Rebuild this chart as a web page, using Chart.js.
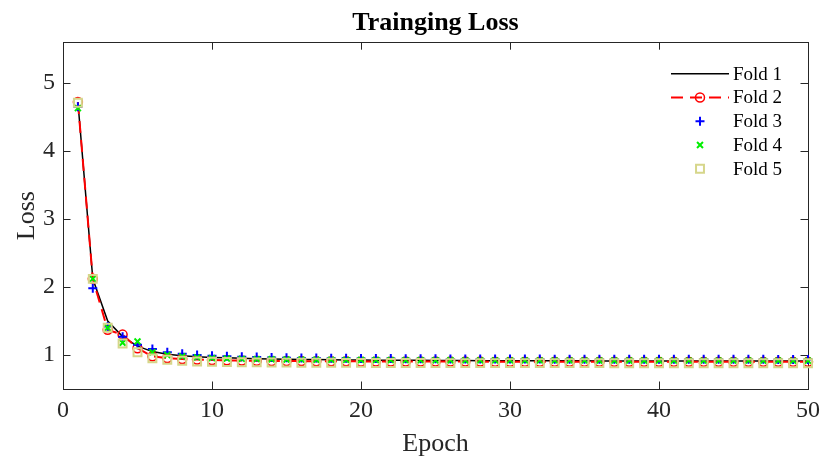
<!DOCTYPE html>
<html>
<head>
<meta charset="utf-8">
<script src="https://cdn.jsdelivr.net/npm/chart.js@4.4.1/dist/chart.umd.min.js"></script>
<style>
html,body{margin:0;padding:0;background:#ffffff;}
#wrap{width:821px;height:457px;}
</style>
</head>
<body>
<div id="wrap"><canvas id="c" width="821" height="457"></canvas></div>
<script>
// ---- data ----
const epochs = [1,2,3,4,5,6,7,8,9,10,11,12,13,14,15,16,17,18,19,20,21,22,23,24,25,26,27,28,29,30,31,32,33,34,35,36,37,38,39,40,41,42,43,44,45,46,47,48,49,50];
const seriesNames = ['Fold 1','Fold 2','Fold 3','Fold 4','Fold 5'];
const fold1 = [4.72,2.12,1.50,1.27,1.13,1.05,1.01,0.99,0.975,0.965,0.958,0.952,0.946,0.942,0.938,0.935,0.932,0.930,0.928,0.926,0.924,0.923,0.922,0.921,0.920,0.919,0.918,0.917,0.917,0.916,0.916,0.915,0.915,0.914,0.914,0.913,0.913,0.913,0.912,0.912,0.912,0.911,0.911,0.911,0.911,0.910,0.910,0.910,0.910,0.910];
const fold2 = [4.72,2.12,1.37,1.30,1.10,0.98,0.955,0.940,0.932,0.926,0.921,0.918,0.915,0.913,0.911,0.910,0.909,0.908,0.907,0.906,0.906,0.905,0.905,0.904,0.904,0.903,0.903,0.903,0.902,0.902,0.902,0.902,0.901,0.901,0.901,0.901,0.900,0.900,0.900,0.900,0.900,0.900,0.899,0.899,0.899,0.899,0.899,0.899,0.899,0.899];
const fold3 = [4.65,1.98,1.42,1.27,1.15,1.09,1.04,1.02,1.00,0.99,0.980,0.975,0.970,0.965,0.960,0.957,0.955,0.953,0.951,0.950,0.948,0.947,0.946,0.945,0.944,0.943,0.943,0.942,0.941,0.941,0.940,0.940,0.939,0.939,0.939,0.938,0.938,0.938,0.937,0.937,0.937,0.937,0.936,0.936,0.936,0.936,0.936,0.935,0.935,0.935];
const fold4 = [4.63,2.12,1.40,1.18,1.20,1.04,1.00,0.980,0.965,0.955,0.948,0.943,0.940,0.937,0.934,0.932,0.930,0.929,0.928,0.927,0.926,0.925,0.924,0.924,0.923,0.923,0.922,0.922,0.921,0.921,0.921,0.920,0.920,0.920,0.920,0.919,0.919,0.919,0.919,0.919,0.918,0.918,0.918,0.918,0.918,0.918,0.917,0.917,0.917,0.917];
const fold5 = [4.71,2.12,1.40,1.17,1.04,0.95,0.930,0.915,0.905,0.900,0.896,0.893,0.891,0.889,0.888,0.887,0.886,0.885,0.884,0.884,0.883,0.883,0.882,0.882,0.882,0.881,0.881,0.881,0.880,0.880,0.880,0.880,0.880,0.880,0.880,0.880,0.879,0.879,0.879,0.879,0.879,0.879,0.879,0.879,0.879,0.879,0.879,0.879,0.879,0.879];
const xTickValues = [0,10,20,30,40,50];
const yTickValues = [1,2,3,4,5];
const xRange = [0,50];
const yRange = [0.5,5.6];
const chartTitle = 'Trainging Loss';
const xTitle = 'Epoch';
const yTitle = 'Loss';

// ---- styles ----
const SERIF = "'Liberation Serif','Times New Roman',serif";
const AXIS_COLOR = '#262626';
const styles = [
  {color:'#000000', line:true,  dash:[],     lw:1.5, pointStyle:false,     r:0,   pw:0},
  {color:'#ff0000', line:true,  dash:[12,7], lw:2,   pointStyle:'circle',  r:4.5, pw:1.5},
  {color:'#0000ff', line:false, dash:[],     lw:0,   pointStyle:'cross',   r:4.5, pw:2},
  {color:'#00ee00', line:false, dash:[],     lw:0,   pointStyle:'crossRot',r:4.2, pw:2},
  {color:'#d6d68a', line:false, dash:[],     lw:0,   pointStyle:'rect',    r:5.6, pw:2}
];
const seriesValues = [fold1, fold2, fold3, fold4, fold5];

const datasets = seriesValues.map((vals, i) => {
  const s = styles[i];
  return {
    label: seriesNames[i],
    data: epochs.map((e, k) => ({x: e, y: vals[k]})),
    borderColor: s.color,
    backgroundColor: 'rgba(0,0,0,0)',
    borderWidth: s.lw,
    borderDash: s.dash,
    showLine: s.line,
    tension: 0,
    pointStyle: s.pointStyle,
    pointRadius: s.r,
    pointHoverRadius: s.r,
    pointBorderWidth: s.pw,
    pointBorderColor: s.color,
    pointBackgroundColor: 'rgba(0,0,0,0)',
    clip: false,
    order: 5 - i
  };
});

// Axes box with inward ticks on all four sides (MATLAB style)
const boxPlugin = {
  id: 'boxPlugin',
  beforeDatasetsDraw(chart) {
    const {ctx, chartArea: a, scales} = chart;
    const tl = 7.5;
    ctx.save();
    ctx.strokeStyle = AXIS_COLOR;
    ctx.lineWidth = 1;
    ctx.setLineDash([]);
    ctx.strokeRect(Math.round(a.left) + 0.5, Math.round(a.top) + 0.5, Math.round(a.right - a.left), Math.round(a.bottom - a.top));
    ctx.beginPath();
    xTickValues.forEach(v => {
      const px = Math.round(scales.x.getPixelForValue(v)) + 0.5;
      ctx.moveTo(px, a.bottom); ctx.lineTo(px, a.bottom - tl);
      ctx.moveTo(px, a.top); ctx.lineTo(px, a.top + tl);
    });
    yTickValues.forEach(v => {
      const py = Math.round(scales.y.getPixelForValue(v)) + 0.5;
      ctx.moveTo(a.left, py); ctx.lineTo(a.left + tl, py);
      ctx.moveTo(a.right, py); ctx.lineTo(a.right - tl, py);
    });
    ctx.stroke();
    ctx.restore();
  }
};

function drawMarker(ctx, style, x, y, r) {
  if (Chart.helpers && Chart.helpers.drawPoint) {
    Chart.helpers.drawPoint(ctx, {pointStyle: style, radius: r, rotation: 0, borderWidth: 1}, x, y);
    return;
  }
  ctx.beginPath();
  if (style === 'circle') { ctx.arc(x, y, r, 0, Math.PI * 2); }
  else if (style === 'cross') { ctx.moveTo(x - r, y); ctx.lineTo(x + r, y); ctx.moveTo(x, y - r); ctx.lineTo(x, y + r); }
  else if (style === 'crossRot') { const o = r * Math.SQRT1_2; ctx.moveTo(x - o, y - o); ctx.lineTo(x + o, y + o); ctx.moveTo(x - o, y + o); ctx.lineTo(x + o, y - o); }
  else if (style === 'rect') { const o = r * Math.SQRT1_2; ctx.rect(x - o, y - o, 2 * o, 2 * o); }
  ctx.stroke();
}

// Legend inside the axes, top-right, no box
const legendPlugin = {
  id: 'legendPlugin',
  afterDatasetsDraw(chart) {
    const {ctx, chartArea: a} = chart;
    const x0 = a.right - 137, x1 = a.right - 79, xm = (x0 + x1) / 2, xt = a.right - 75;
    const y0 = a.top + 31.5, dy = 23.75;
    ctx.save();
    chart.data.datasets.forEach((ds, i) => {
      const s = styles[i];
      const y = y0 + i * dy;
      if (s.line) {
        ctx.strokeStyle = s.color;
        ctx.lineWidth = s.lw;
        ctx.setLineDash(s.dash);
        ctx.beginPath();
        ctx.moveTo(x0, y); ctx.lineTo(x1, y);
        ctx.stroke();
      }
      if (s.pointStyle) {
        ctx.setLineDash([]);
        ctx.strokeStyle = s.color;
        ctx.fillStyle = 'rgba(0,0,0,0)';
        ctx.lineWidth = s.pw;
        drawMarker(ctx, s.pointStyle, xm, y, s.r);
      }
      ctx.setLineDash([]);
      ctx.fillStyle = '#000000';
      ctx.font = '19px ' + SERIF;
      ctx.textAlign = 'left';
      ctx.textBaseline = 'middle';
      ctx.fillText(ds.label, xt, y + 1);
    });
    ctx.restore();
  }
};

new Chart(document.getElementById('c'), {
  type: 'line',
  data: {datasets},
  options: {
    responsive: false,
    animation: false,
    events: [],
    layout: {padding: {top: 0, right: 13, bottom: 0, left: 0}},
    plugins: {
      legend: {display: false},
      tooltip: {enabled: false},
      title: {
        display: true,
        text: chartTitle,
        fullSize: false,
        color: '#000000',
        font: {family: SERIF, size: 26, weight: 'bold', lineHeight: 1.2},
        padding: {top: 8, bottom: 3}
      }
    },
    scales: {
      x: {
        type: 'linear',
        min: xRange[0], max: xRange[1],
        grid: {display: false, drawTicks: false, tickLength: 0},
        border: {display: false},
        afterBuildTicks: s => { s.ticks = xTickValues.map(v => ({value: v})); },
        afterFit: s => { s.height = 68; s.paddingLeft = 0; s.paddingRight = 0; },
        ticks: {
          color: AXIS_COLOR, padding: 7, maxRotation: 0, autoSkip: false,
          font: {family: SERIF, size: 24}
        },
        title: {
          display: true, text: xTitle, color: AXIS_COLOR,
          font: {family: SERIF, size: 26, lineHeight: 1.0},
          padding: {top: 0, bottom: 0}
        }
      },
      y: {
        type: 'linear',
        min: yRange[0], max: yRange[1],
        grid: {display: false, drawTicks: false, tickLength: 0},
        border: {display: false},
        afterBuildTicks: s => { s.ticks = yTickValues.map(v => ({value: v})); },
        afterFit: s => { s.width = 63; s.paddingTop = 0; s.paddingBottom = 0; },
        ticks: {
          color: AXIS_COLOR, padding: 8, autoSkip: false,
          font: {family: SERIF, size: 24}
        },
        title: {
          display: true, text: yTitle, color: AXIS_COLOR,
          font: {family: SERIF, size: 26, lineHeight: 1.2},
          padding: {top: 12, bottom: 0}
        }
      }
    }
  },
  plugins: [boxPlugin, legendPlugin]
});
</script>
</body>
</html>
